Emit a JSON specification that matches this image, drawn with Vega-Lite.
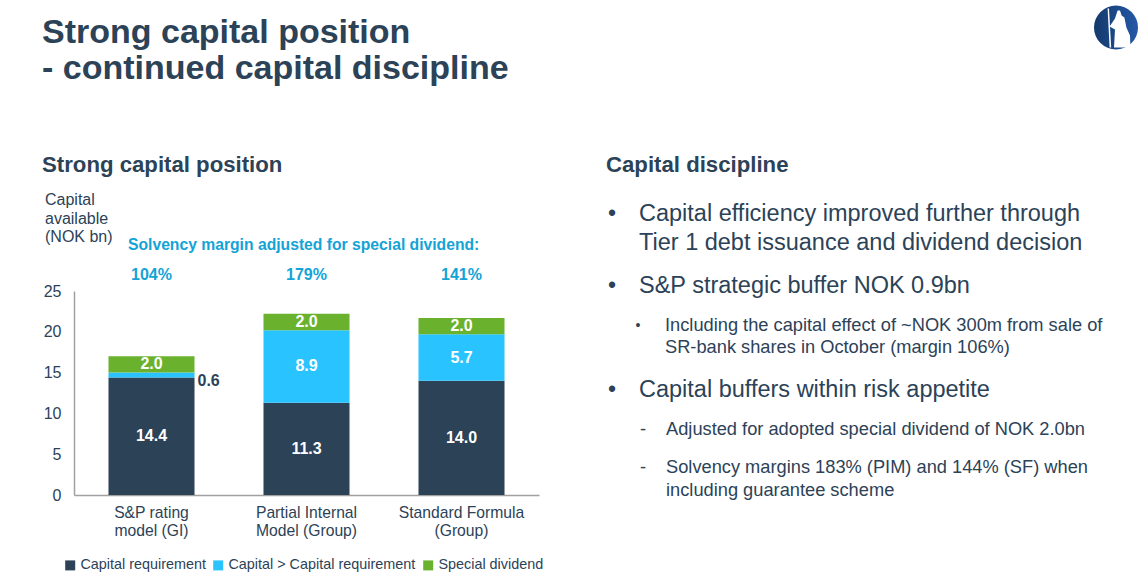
{
"$schema":"https://vega.github.io/schema/vega-lite/v6.json",
"width":465,"height":204,
"autosize":{"type":"none"},
"padding":{"left":74,"top":291,"right":599,"bottom":90},
"background":"white",
"title":{"text":["Strong capital position","- continued capital discipline"],"anchor":"start","frame":"group","dx":-32,"offset":-80,"font":"Liberation Sans","fontSize":34,"fontWeight":"bold","color":"#2c4257","lineHeight":36,"align":"left"},
"config":{"view":{"stroke":null},"font":"Liberation Sans","text":{"font":"Liberation Sans"}},
"datasets":{
"bars":[
{"model":"S&P rating|model (GI)","component":"Capital requirement","rank":1,"value":14.4},
{"model":"S&P rating|model (GI)","component":"Capital > Capital requirement","rank":2,"value":0.6},
{"model":"S&P rating|model (GI)","component":"Special dividend","rank":3,"value":2.0},
{"model":"Partial Internal|Model (Group)","component":"Capital requirement","rank":1,"value":11.3},
{"model":"Partial Internal|Model (Group)","component":"Capital > Capital requirement","rank":2,"value":8.9},
{"model":"Partial Internal|Model (Group)","component":"Special dividend","rank":3,"value":2.0},
{"model":"Standard Formula|(Group)","component":"Capital requirement","rank":1,"value":14.0},
{"model":"Standard Formula|(Group)","component":"Capital > Capital requirement","rank":2,"value":5.7},
{"model":"Standard Formula|(Group)","component":"Special dividend","rank":3,"value":2.0}
],
"margins":[
{"model":"S&P rating|model (GI)","margin":"104%"},
{"model":"Partial Internal|Model (Group)","margin":"179%"},
{"model":"Standard Formula|(Group)","margin":"141%"}
]
},
"layer":[
{"data":{"name":"bars"},
"transform":[{"stack":"value","groupby":["model"],"sort":[{"field":"rank","order":"ascending"}],"as":["v0","v1"]}],
"mark":{"type":"bar"},
"encoding":{
"x":{"field":"model","type":"nominal","sort":null,"title":null,
"scale":{"paddingInner":0.445,"paddingOuter":0.2225},
"axis":{"labelExpr":"split(datum.label,'|')","labelAngle":0,"labelFont":"Liberation Sans","labelFontSize":15.7,"labelColor":"#2c4257","labelLineHeight":18,"labelPadding":10,"ticks":false,"domainColor":"#a0a0a0","domainWidth":1.5,"labelLimit":200}},
"y":{"field":"v0","type":"quantitative","title":null,"scale":{"domain":[0,25],"nice":false},
"axis":{"values":[0,5,10,15,20,25],"grid":false,"ticks":false,"labelFont":"Liberation Sans","labelFontSize":16,"labelColor":"#2c4257","labelPadding":13,"domainColor":"#a0a0a0","domainWidth":1.5}},
"y2":{"field":"v1"},
"color":{"field":"component","type":"nominal","title":null,
"scale":{"domain":["Capital requirement","Capital > Capital requirement","Special dividend"],"range":["#2c4257","#29c4ff","#6ab22e"]},
"legend":{"orient":"none","legendX":-11,"legendY":267,"direction":"horizontal","columns":3,"symbolType":"square","symbolSize":100,"symbolOpacity":1,"labelFont":"Liberation Sans","labelFontSize":14.4,"labelColor":"#2c4257","labelOffset":3,"columnPadding":5,"labelLimit":300}}
}},
{"data":{"name":"bars"},
"transform":[{"stack":"value","groupby":["model"],"sort":[{"field":"rank","order":"ascending"}],"as":["v0","v1"]},{"calculate":"(datum.v0+datum.v1)/2","as":"mid"},{"filter":"datum.value!=0.6"}],
"mark":{"type":"text","color":"white","fontSize":16,"fontWeight":"bold","baseline":"middle"},
"encoding":{"x":{"field":"model","type":"nominal","sort":null},"y":{"field":"mid","type":"quantitative"},"text":{"field":"value","type":"quantitative","format":".1f"}}},
{"data":{"name":"bars"},
"transform":[{"stack":"value","groupby":["model"],"sort":[{"field":"rank","order":"ascending"}],"as":["v0","v1"]},{"filter":"datum.value==0.6"}],
"mark":{"type":"text","color":"#2c4257","fontSize":16,"fontWeight":"bold","baseline":"middle","align":"left","dx":46,"dy":8},
"encoding":{"x":{"field":"model","type":"nominal","sort":null},"y":{"field":"v1","type":"quantitative"},"text":{"field":"value","type":"quantitative","format":".1f"}}},
{"data":{"name":"margins"},
"mark":{"type":"text","color":"#14a3d6","fontSize":16,"fontWeight":"bold","baseline":"middle"},
"encoding":{"x":{"field":"model","type":"nominal","sort":null},"y":{"value":-16},"text":{"field":"margin","type":"nominal"}}},
{"data":{"values":[{}]},"mark":{"type":"text","x":-32,"y":-126,"text":"Strong capital position","align":"left","baseline":"middle","fontSize":22.2,"fontWeight":"bold","color":"#2c4257"},"encoding":{}},
{"data":{"values":[{}]},"mark":{"type":"text","x":532,"y":-126,"text":"Capital discipline","align":"left","baseline":"middle","fontSize":22.2,"fontWeight":"bold","color":"#2c4257"},"encoding":{}},
{"data":{"values":[{}]},"mark":{"type":"text","x":-29,"y":-91,"text":["Capital","available","(NOK bn)"],"lineHeight":18.5,"align":"left","baseline":"middle","fontSize":16,"color":"#2c4257"},"encoding":{}},
{"data":{"values":[{}]},"mark":{"type":"text","x":54,"y":-46,"text":"Solvency margin adjusted for special dividend:","align":"left","baseline":"middle","fontSize":15.7,"fontWeight":"bold","color":"#14a3d6"},"encoding":{}},
{"data":{"values":[{}]},"mark":{"type":"text","x":538,"y":-77,"text":"•","align":"center","baseline":"middle","fontSize":23,"color":"#2c4257"},"encoding":{}},
{"data":{"values":[{}]},"mark":{"type":"text","x":565,"y":-77,"text":["Capital efficiency improved further through","Tier 1 debt issuance and dividend decision"],"lineHeight":29,"align":"left","baseline":"middle","fontSize":23.5,"color":"#2c4257"},"encoding":{}},
{"data":{"values":[{}]},"mark":{"type":"text","x":538,"y":-5,"text":"•","align":"center","baseline":"middle","fontSize":23,"color":"#2c4257"},"encoding":{}},
{"data":{"values":[{}]},"mark":{"type":"text","x":565,"y":-5,"text":"S&P strategic buffer NOK 0.9bn","align":"left","baseline":"middle","fontSize":23.5,"color":"#2c4257"},"encoding":{}},
{"data":{"values":[{}]},"mark":{"type":"text","x":564,"y":35,"text":"•","align":"center","baseline":"middle","fontSize":14,"color":"#2c4257"},"encoding":{}},
{"data":{"values":[{}]},"mark":{"type":"text","x":591,"y":35,"text":["Including the capital effect of ~NOK 300m from sale of","SR-bank shares in October (margin 106%)"],"lineHeight":22,"align":"left","baseline":"middle","fontSize":18.25,"color":"#2c4257"},"encoding":{}},
{"data":{"values":[{}]},"mark":{"type":"text","x":538,"y":99,"text":"•","align":"center","baseline":"middle","fontSize":23,"color":"#2c4257"},"encoding":{}},
{"data":{"values":[{}]},"mark":{"type":"text","x":565,"y":99,"text":"Capital buffers within risk appetite","align":"left","baseline":"middle","fontSize":23.5,"color":"#2c4257"},"encoding":{}},
{"data":{"values":[{}]},"mark":{"type":"text","x":569,"y":139,"text":"-","align":"center","baseline":"middle","fontSize":18.25,"color":"#2c4257"},"encoding":{}},
{"data":{"values":[{}]},"mark":{"type":"text","x":592,"y":139,"text":"Adjusted for adopted special dividend of NOK 2.0bn","align":"left","baseline":"middle","fontSize":18.25,"color":"#2c4257"},"encoding":{}},
{"data":{"values":[{}]},"mark":{"type":"text","x":569,"y":177,"text":"-","align":"center","baseline":"middle","fontSize":18.25,"color":"#2c4257"},"encoding":{}},
{"data":{"values":[{}]},"mark":{"type":"text","x":592,"y":177,"text":["Solvency margins 183% (PIM) and 144% (SF) when","including guarantee scheme"],"lineHeight":23,"align":"left","baseline":"middle","fontSize":18.25,"color":"#2c4257"},"encoding":{}},
{"data":{"values":[{}]},"mark":{"type":"point","x":1042,"y":-263.5,"shape":"circle","size":1936,"filled":true,"opacity":1,"stroke":null,"fill":{"gradient":"linear","x1":0,"x2":1,"y1":0,"y2":0,"stops":[{"offset":0,"color":"#143a6b"},{"offset":1,"color":"#2558a8"}]}},"encoding":{}},
{"data":{"values":[{}]},"mark":{"type":"point","x":1042,"y":-263.5,"shape":"M -0.42 -0.95 L -0.35 -0.95 L -0.24 1 L -0.32 1 Z M 0.08 -0.85 L 0.2 -0.85 L 0.28 -0.6 L 0.42 -0.5 L 0.52 0 L 0.7 0.4 L 0.72 1 L -0.1 1 L -0.05 0.1 L -0.32 -0.05 L -0.05 -0.45 Z","size":1600,"filled":true,"opacity":1,"stroke":null,"fill":"white"},"encoding":{}}
]
}
